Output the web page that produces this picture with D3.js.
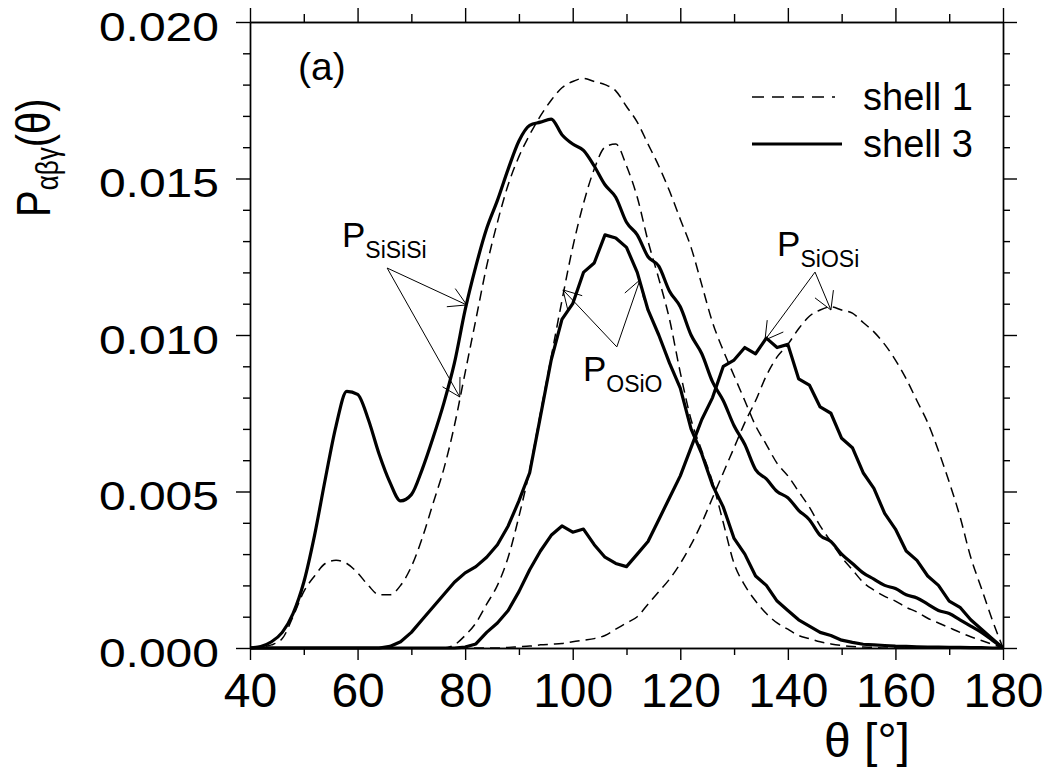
<!DOCTYPE html>
<html>
<head>
<meta charset="utf-8">
<script src="https://cdn.jsdelivr.net/npm/d3@7"></script>
<style>
  html, body { margin: 0; padding: 0; background: #fff; }
  svg { display: block; font-family: "Liberation Sans", Arial, Helvetica, sans-serif; }
</style>
</head>
<body>
<svg id="chart" width="1049" height="771"></svg>
<script>
// Bond-angle distributions P(theta), sampled every 2 degrees
const theta = [40,42,44,46,48,50,52,54,56,58,60,62,64,66,68,70,72,74,76,78,80,82,84,86,88,90,92,94,96,98,100,102,104,106,108,110,112,114,116,118,120,122,124,126,128,130,132,134,136,138,140,142,144,146,148,150,152,154,156,158,160,162,164,166,168,170,172,174,176,178,180];

// Si-Si-Si
const siSiSiShell1 = [0,0.00003,0.0001,0.0003,0.0010,0.0018,0.0023,0.0027,0.0028,0.0027,0.0024,0.0020,0.0017,0.0017,0.0020,0.0026,0.0035,0.0046,0.0057,0.0071,0.0088,0.0105,0.0122,0.0136,0.0148,0.0157,0.0164,0.0170,0.0175,0.0179,0.0181,0.0182,0.0181,0.0180,0.0178,0.0173,0.0168,0.0161,0.0154,0.0146,0.0137,0.0128,0.0116,0.0104,0.0095,0.0087,0.0079,0.0071,0.0065,0.0059,0.0055,0.0050,0.0045,0.0039,0.0034,0.0029,0.0025,0.0021,0.00185,0.00165,0.0015,0.0013,0.00115,0.00095,0.0008,0.00065,0.0005,0.00036,0.00024,0.00012,0];
const siSiSiShell3 = [0,0.00005,0.0002,0.0005,0.0011,0.0021,0.0036,0.0054,0.0071,0.0082,0.0081,0.0073,0.0062,0.0053,0.0047,0.0049,0.0057,0.0067,0.0078,0.0091,0.0108,0.0122,0.0134,0.0143,0.0153,0.0162,0.0167,0.0168,0.0169,0.0164,0.0161,0.0159,0.0154,0.0148,0.0144,0.0136,0.0132,0.0125,0.0122,0.0114,0.0109,0.0100,0.0094,0.0085,0.0079,0.0071,0.0065,0.0057,0.0054,0.0050,0.0048,0.0044,0.0041,0.0036,0.0034,0.0030,0.0027,0.0024,0.0022,0.0020,0.0019,0.0017,0.0016,0.0014,0.0012,0.0011,0.0009,0.0007,0.0005,0.00025,0];

// O-Si-O
const oSiOShell1 = [0,0,0,0,0,0,0,0,0,0,0,0,0,0,0,0,0,0,0,0.0001,0.0004,0.0008,0.0014,0.0020,0.0029,0.0042,0.0057,0.0075,0.0093,0.0111,0.0128,0.0142,0.0153,0.0160,0.0161,0.0154,0.0144,0.0130,0.0118,0.0105,0.0088,0.0073,0.0063,0.0053,0.0040,0.0027,0.0020,0.0015,0.0011,0.0008,0.0006,0.0004,0.0003,0.0002,0.00013,0.00008,0.00005,0.00003,0.00002,0,0,0,0,0,0,0,0,0,0,0,0];
const oSiOShell3 = [0,0,0,0,0,0,0,0,0,0,0,0,0,0.00005,0.0002,0.0005,0.0009,0.0013,0.0017,0.0021,0.0024,0.0026,0.0029,0.0033,0.0039,0.0047,0.0056,0.0074,0.0092,0.0105,0.0110,0.0120,0.0123,0.0132,0.0131,0.0128,0.0120,0.0108,0.0100,0.0091,0.0083,0.0070,0.0062,0.0052,0.0045,0.0035,0.0030,0.0023,0.0020,0.0015,0.0012,0.0009,0.0007,0.0005,0.0004,0.00025,0.00018,0.00012,0.0001,0.00008,0.00006,0.00005,0.00004,0.00003,0.00003,0.00002,0.00002,0.00001,0.00001,0,0];

// Si-O-Si
const siOSiShell1 = [0,0,0,0,0,0,0,0,0,0,0,0,0,0,0,0,0,0,0,0,0,0,0,0,0.00002,0.00004,0.00006,0.0001,0.00012,0.00014,0.0002,0.00025,0.0003,0.0004,0.0006,0.0008,0.0010,0.0014,0.0018,0.0022,0.0027,0.0033,0.0040,0.0048,0.0056,0.0064,0.0072,0.0079,0.0087,0.0093,0.0097,0.0102,0.0106,0.0108,0.0109,0.0108,0.0107,0.0104,0.0101,0.0097,0.0092,0.0086,0.0079,0.0072,0.0063,0.0053,0.0042,0.0029,0.0019,0.0009,0];
const siOSiShell3 = [0,0,0,0,0,0,0,0,0,0,0,0,0,0,0,0,0,0,0,0,0.00003,0.00013,0.0005,0.0008,0.0012,0.0018,0.0025,0.0031,0.0036,0.0039,0.0037,0.0038,0.0033,0.0029,0.0027,0.0026,0.0030,0.0034,0.0041,0.0048,0.0055,0.0064,0.0073,0.0080,0.0090,0.0092,0.0096,0.0094,0.0099,0.0096,0.0097,0.0086,0.0084,0.0077,0.0075,0.0067,0.0064,0.0056,0.0051,0.0043,0.0038,0.0031,0.0028,0.0023,0.0020,0.0015,0.0013,0.0009,0.0006,0.0003,0];

const xMajorTicks = [40,60,80,100,120,140,160,180];
const xMinorTicks = [50,70,90,110,130,150,170];
const yMajorTicks = [0,0.005,0.010,0.015,0.020];
const yMinorTicks = [0.001,0.002,0.003,0.004,0.006,0.007,0.008,0.009,0.011,0.012,0.013,0.014,0.016,0.017,0.018,0.019];

const legendLabels = ["shell 1","shell 3"];

// Curve annotations: label anchor and the points the arrows point at (data units)
const annotations = [
  { main: "P", sub: "SiSiSi", at: [57.1, 0.01281], from: [65.5, 0.01214], tips: [[80.3, 0.01096], [79.0, 0.00802]] },
  { main: "P", sub: "OSiO",   at: [101.9, 0.00853], from: [108.2, 0.00962], tips: [[112.5, 0.01176], [98.2, 0.01144]] },
  { main: "P", sub: "SiOSi",  at: [138.0, 0.01252], from: [145.05, 0.01201], tips: [[135.75, 0.00984], [148.0, 0.0108]] }
];

const svg = d3.select("#chart");

const x = d3.scaleLinear().domain([40, 180]).range([250, 1003]);
const y = d3.scaleLinear().domain([0, 0.020]).range([648, 22]);

const axisStroke = 1.4;

function styleAxis(g) {
  g.attr("font-family", null);
  g.select(".domain").attr("stroke", "#000").attr("stroke-width", axisStroke);
  g.selectAll(".tick line").attr("stroke", "#000").attr("stroke-width", axisStroke);
}

// Bottom axis
const gBottom = svg.append("g").attr("transform", `translate(0,${y(0)})`)
  .call(d3.axisBottom(x).tickValues(xMajorTicks).tickSize(12).tickSizeOuter(0).tickFormat(d3.format("d")))
  .call(styleAxis);
gBottom.selectAll(".tick text")
  .attr("y", 0).attr("dy", 0)
  .attr("transform", "translate(0,59)")
  .attr("font-size", 48).attr("fill", "#000");
svg.append("g").attr("transform", `translate(0,${y(0)})`)
  .call(d3.axisBottom(x).tickValues(xMinorTicks).tickSize(7).tickSizeOuter(0).tickFormat(""))
  .call(styleAxis);

// Top axis
svg.append("g").attr("transform", `translate(0,${y(0.020)})`)
  .call(d3.axisTop(x).tickValues(xMajorTicks).tickSize(14).tickSizeOuter(0).tickFormat(""))
  .call(styleAxis);
svg.append("g").attr("transform", `translate(0,${y(0.020)})`)
  .call(d3.axisTop(x).tickValues(xMinorTicks).tickSize(8).tickSizeOuter(0).tickFormat(""))
  .call(styleAxis);

// Left axis
const gLeft = svg.append("g").attr("transform", `translate(${x(40)},0)`)
  .call(d3.axisLeft(y).tickValues(yMajorTicks).tickSize(14).tickSizeOuter(0).tickFormat(d3.format(".3f")))
  .call(styleAxis);
gLeft.selectAll(".tick text")
  .attr("x", 0).attr("dy", 0)
  .attr("text-anchor", "end")
  .attr("transform", "translate(-31,18) scale(1.2,1)")
  .attr("font-size", 40).attr("fill", "#000");
svg.append("g").attr("transform", `translate(${x(40)},0)`)
  .call(d3.axisLeft(y).tickValues(yMinorTicks).tickSize(7).tickSizeOuter(0).tickFormat(""))
  .call(styleAxis);

// Right axis
svg.append("g").attr("transform", `translate(${x(180)},0)`)
  .call(d3.axisRight(y).tickValues(yMajorTicks).tickSize(14).tickSizeOuter(0).tickFormat(""))
  .call(styleAxis);
svg.append("g").attr("transform", `translate(${x(180)},0)`)
  .call(d3.axisRight(y).tickValues(yMinorTicks).tickSize(7).tickSizeOuter(0).tickFormat(""))
  .call(styleAxis);

// Curves: shell 1 dashed, shell 3 solid; the noisier shell-3 histograms are drawn unsmoothed
const series = [
  { values: siSiSiShell1, shell: 1, smooth: true },
  { values: oSiOShell1,   shell: 1, smooth: true },
  { values: siOSiShell1,  shell: 1, smooth: true },
  { values: siSiSiShell3, shell: 3, smooth: true },
  { values: oSiOShell3,   shell: 3, smooth: false },
  { values: siOSiShell3,  shell: 3, smooth: false }
];

const smoothLine = d3.line()
  .x(d => x(d[0]))
  .y(d => y(d[1]))
  .curve(d3.curveMonotoneX);
const rawLine = d3.line()
  .x(d => x(d[0]))
  .y(d => y(d[1]))
  .curve(d3.curveLinear);

const plot = svg.append("g");
series.forEach(s => {
  const pts = theta.map((t, i) => [t, s.values[i]]);
  plot.append("path")
    .datum(pts)
    .attr("d", s.smooth ? smoothLine : rawLine)
    .attr("fill", "none")
    .attr("stroke", "#000")
    .attr("stroke-linejoin", "round")
    .attr("stroke-width", s.shell === 1 ? 1.5 : 3.2)
    .attr("stroke-dasharray", s.shell === 1 ? "10,6" : null);
});

// Axis titles
const yTitle = svg.append("text")
  .attr("transform", "translate(50,217) scale(1.2,1) rotate(-90)")
  .attr("fill", "#000");
yTitle.append("tspan").attr("font-size", 40).text("P");
yTitle.append("tspan").attr("font-size", 26).attr("dy", 7).text("αβγ");
yTitle.append("tspan").attr("font-size", 40).attr("dy", -7).text("(θ)");

svg.append("text")
  .attr("x", 867).attr("y", 757)
  .attr("text-anchor", "middle")
  .attr("font-size", 48)
  .attr("fill", "#000")
  .text("θ [°]");

// Panel label
svg.append("text")
  .attr("x", 298).attr("y", 80)
  .attr("font-size", 39)
  .attr("fill", "#000")
  .text("(a)");

// Legend
const legend = svg.append("g");
legendLabels.forEach((lab, i) => {
  const yy = 97 + i * 47;
  legend.append("line")
    .attr("x1", 752).attr("x2", i === 0 ? 835 : 842)
    .attr("y1", yy).attr("y2", yy)
    .attr("stroke", "#000")
    .attr("stroke-width", i === 0 ? 1.5 : 3.2)
    .attr("stroke-dasharray", i === 0 ? "12,8" : null);
  legend.append("text")
    .attr("x", 863).attr("y", yy + 13)
    .attr("font-size", 38)
    .attr("fill", "#000")
    .text(lab);
});

// Annotations with open arrowheads
const ann = svg.append("g");
const barbLen = 20, barbAngle = Math.PI / 6;
annotations.forEach(a => {
  const t = ann.append("text").attr("x", x(a.at[0])).attr("y", y(a.at[1])).attr("fill", "#000");
  t.append("tspan").attr("font-size", 35).text(a.main);
  t.append("tspan").attr("font-size", 23).attr("dy", 11).text(a.sub);

  const x0 = x(a.from[0]), y0 = y(a.from[1]);
  a.tips.forEach(tp => {
    const x1 = x(tp[0]), y1 = y(tp[1]);
    ann.append("line")
      .attr("x1", x0).attr("y1", y0).attr("x2", x1).attr("y2", y1)
      .attr("stroke", "#000").attr("stroke-width", 1);
    const ang = Math.atan2(y1 - y0, x1 - x0) + Math.PI;
    [-barbAngle, barbAngle].forEach(da => {
      ann.append("line")
        .attr("x1", x1).attr("y1", y1)
        .attr("x2", x1 + barbLen * Math.cos(ang + da))
        .attr("y2", y1 + barbLen * Math.sin(ang + da))
        .attr("stroke", "#000").attr("stroke-width", 1);
    });
  });
});
</script>
</body>
</html>
